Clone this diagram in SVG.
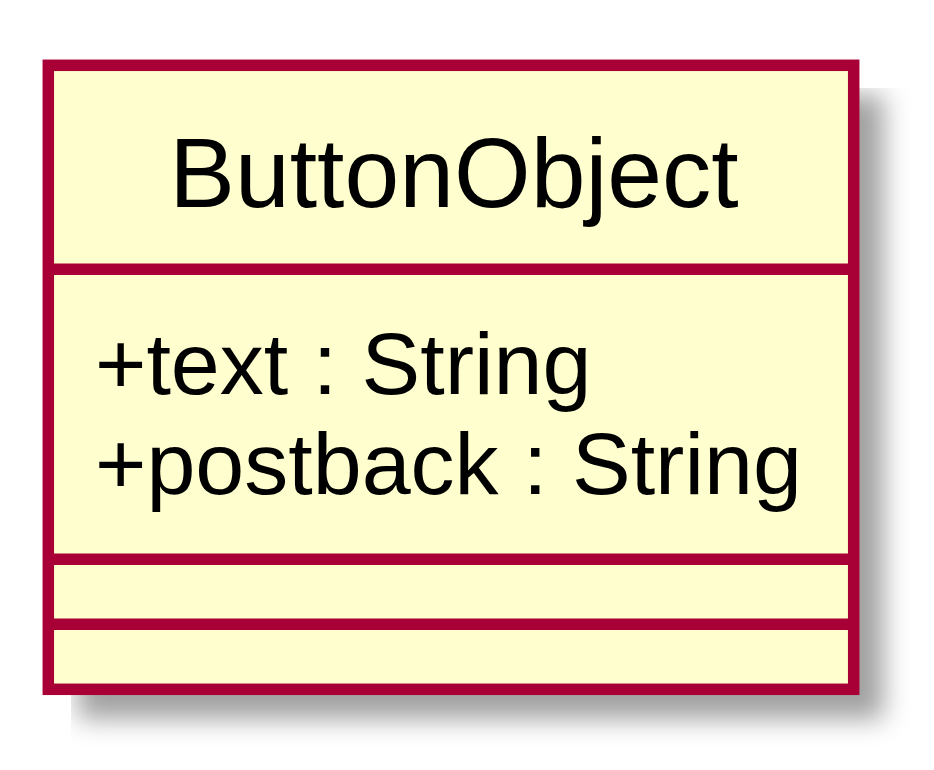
<svg xmlns="http://www.w3.org/2000/svg" width="934" height="770" viewBox="0 0 934 770">
<style>
.box{fill:#FEFECE;stroke:#A80036;stroke-width:11.5}
.sep{stroke:#A80036;stroke-width:11.5;fill:none}
.title{font-family:"Liberation Sans",Arial,sans-serif;font-size:98.5px;fill:#000}
.attr{font-family:"Liberation Sans",Arial,sans-serif;font-size:88px;fill:#000}
</style>
<defs>
<filter id="sh" filterUnits="userSpaceOnUse" x="71.7" y="88.3" width="900" height="700">
<feGaussianBlur stdDeviation="13"/>
</filter>
</defs>
<rect width="934" height="770" fill="#FFFFFF"/>
<g id="ButtonObject">
<rect x="78" y="95" width="805.4" height="624" fill="#000" fill-opacity="0.37" filter="url(#sh)"/>
<rect class="box" x="48.3" y="65.3" width="805.4" height="624"/>
<text class="title" x="454" y="207" text-anchor="middle">ButtonObject</text>
<line class="sep" x1="48.3" y1="269.3" x2="853.7" y2="269.3"/>
<text class="attr" x="95" y="394">+text : String</text>
<text class="attr" x="95" y="494">+postback : String</text>
<line class="sep" x1="48.3" y1="559.3" x2="853.7" y2="559.3"/>
<line class="sep" x1="48.3" y1="624.3" x2="853.7" y2="624.3"/>
</g>
<g id="connectors"/>
</svg>
